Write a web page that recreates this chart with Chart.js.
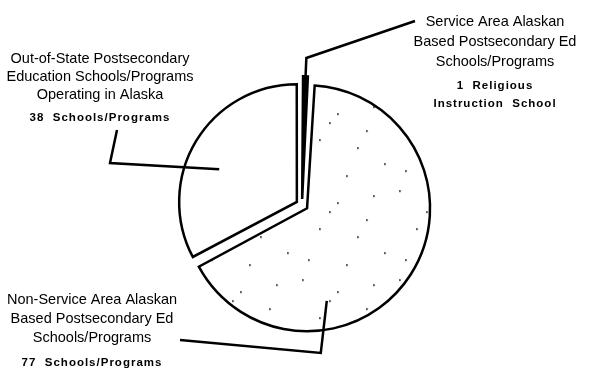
<!DOCTYPE html>
<html>
<head>
<meta charset="utf-8">
<script src="https://cdn.jsdelivr.net/npm/chart.js@4/dist/chart.umd.min.js"></script>
<style>
  html, body { margin: 0; padding: 0; background: #fff; }
  #wrap { width: 589px; height: 371px; }
</style>
</head>
<body>
<div id="wrap"><canvas id="myChart" width="589" height="371"></canvas></div>
<script>
// data, clockwise from the top
const categories = [
    'Service Area Alaskan Based Postsecondary Ed Schools/Programs',
    'Non-Service Area Alaskan Based Postsecondary Ed Schools/Programs',
    'Out-of-State Postsecondary Education Schools/Programs Operating in Alaska'
];
const counts = [1, 77, 38];
const titleLines = [
    ['Service Area Alaskan', 'Based Postsecondary Ed', 'Schools/Programs'],
    ['Non-Service Area Alaskan', 'Based Postsecondary Ed', 'Schools/Programs'],
    ['Out-of-State Postsecondary', 'Education Schools/Programs', 'Operating in Alaska']
];
const countLines = [
    [counts[0] + '  Religious', 'Instruction  School'],
    [counts[1] + '  Schools/Programs'],
    [counts[2] + '  Schools/Programs']
];

// sparse, uneven stipple for the big slice
function stipple() {
    const c = document.createElement('canvas');
    c.width = 97; c.height = 89;
    const g = c.getContext('2d');
    g.fillStyle = '#fff';
    g.fillRect(0, 0, c.width, c.height);
    g.fillStyle = '#222';
    [[6, 9], [41, 21], [77, 14], [23, 47], [61, 55], [88, 71], [12, 78], [50, 83], [33, 30], [70, 38]]
        .forEach(p => g.fillRect(p[0], p[1], 1.7, 1.7));
    return g.createPattern(c, 'repeat');
}

// where a label and its leader sit
const labelBoxes = [
    {x: 495, y: [22, 42, 62], cy: [86, 104]},
    {x: 92, y: [300, 319, 338], cy: [363]},
    {x: 100, y: [59, 77, 95], cy: [118]}
];

function anchor(arc, t, r) {
    const off = (arc.options.offset || 0) / 4;
    const half = (arc.startAngle + arc.endAngle) / 2;
    const a = arc.startAngle + (arc.endAngle - arc.startAngle) * t;
    return {
        x: arc.x + Math.cos(half) * off + Math.cos(a) * arc.outerRadius * r,
        y: arc.y + Math.sin(half) * off + Math.sin(a) * arc.outerRadius * r
    };
}

const labelPlugin = {
    id: 'sliceLabels',
    afterDatasetsDraw(chart) {
        const ctx = chart.ctx;
        const arcs = chart.getDatasetMeta(0).data;
        ctx.save();
        ctx.fillStyle = '#000';
        ctx.textAlign = 'center';
        ctx.textBaseline = 'middle';
        labelBoxes.forEach((b, i) => {
            ctx.font = '14.5px "Liberation Sans", Arial, sans-serif';
            ctx.letterSpacing = '0px';
            titleLines[i].forEach((s, k) => ctx.fillText(s, b.x, b.y[k]));
            ctx.font = 'bold 11.5px "Liberation Sans", Arial, sans-serif';
            ctx.letterSpacing = '1px';
            countLines[i].forEach((s, k) => ctx.fillText(s, b.x, b.cy[k]));
        });
        ctx.letterSpacing = '0px';

        // leader lines
        ctx.strokeStyle = '#000';
        ctx.lineWidth = 2.5;
        ctx.lineJoin = 'miter';
        const a0 = anchor(arcs[0], 0.5, 1.0);
        const a1 = anchor(arcs[1], 0.69, 0.81);
        const a2 = anchor(arcs[2], 0.43, 0.72);
        const paths = [
            [a0, {x: a0.x + 1, y: 58}, {x: 415, y: 21}],
            [a1, {x: a1.x - 6, y: 353}, {x: 180, y: 340}],
            [a2, {x: 110, y: 163}, {x: 117, y: 130}]
        ];
        paths.forEach(p => {
            ctx.beginPath();
            ctx.moveTo(p[0].x, p[0].y);
            for (let k = 1; k < p.length; k++) ctx.lineTo(p[k].x, p[k].y);
            ctx.stroke();
        });
        ctx.restore();
    }
};

const ctx = document.getElementById('myChart').getContext('2d');

const graph = {
    type: 'pie',
    data: {
        labels: categories,
        datasets: [{
            data: counts,
            backgroundColor: ['#000', stipple(), '#fff'],
            borderColor: '#000',
            borderWidth: 2.5,
            borderJoinStyle: 'miter',
            offset: 24
        }]
    },
    options: {
        responsive: false,
        animation: false,
        radius: 117,
        layout: { padding: { left: 15, top: 39, right: 0, bottom: 0 } },
        plugins: {
            legend: { display: false },
            tooltip: { enabled: false },
            title: { display: false }
        }
    },
    plugins: [labelPlugin]
};

const myChart = new Chart(ctx, graph);
</script>
</body>
</html>
